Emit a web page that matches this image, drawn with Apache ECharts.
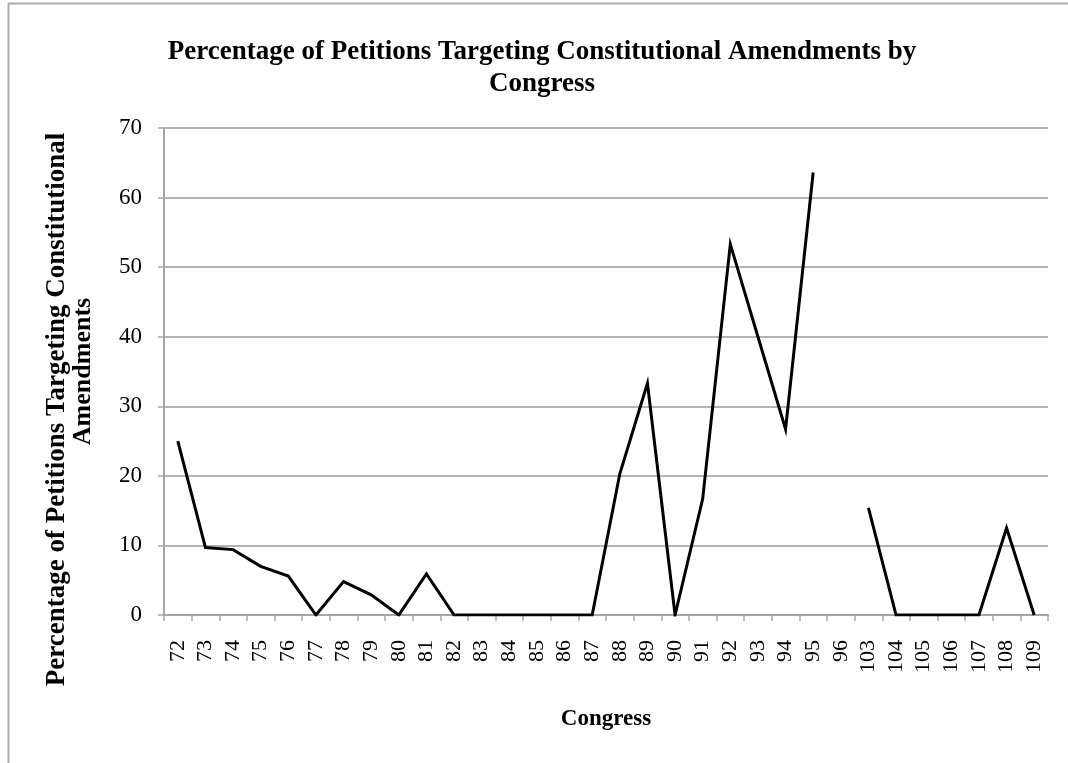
<!DOCTYPE html>
<html>
<head>
<meta charset="utf-8">
<script src="https://cdn.jsdelivr.net/npm/echarts@6/dist/echarts.min.js"></script>
<style>
html,body{margin:0;padding:0;background:#fff;}
#chart{width:1068px;height:763px;}
</style>
</head>
<body>
<div id="chart"></div>
<script>
var congresses = ['72','73','74','75','76','77','78','79','80','81','82','83','84','85','86','87','88','89','90','91','92','93','94','95','96','103','104','105','106','107','108','109'];
var percentages = [25, 9.7, 9.4, 7.0, 5.6, 0, 4.8, 2.9, 0, 5.9, 0, 0, 0, 0, 0, 0, 20.3, 33.3, 0, 16.7, 53.3, 40, 26.7, 63.6, null, 15.4, 0, 0, 0, 0, 12.5, 0];
var yTicks = [0, 10, 20, 30, 40, 50, 60, 70];

var serif = '"Liberation Serif", "Times New Roman", serif';
var chart = echarts.init(document.getElementById('chart'));
chart.setOption({
  animation: false,
  backgroundColor: '#fff',
  graphic: [{
    type: 'rect',
    shape: {x: 8.5, y: 3.5, width: 1200, height: 900},
    style: {fill: 'none', stroke: '#ababab', lineWidth: 2},
    silent: true
  }],
  title: {
    text: 'Percentage of Petitions Targeting Constitutional Amendments by\nCongress',
    left: 537,
    textAlign: 'center',
    top: 31,
    textStyle: {fontFamily: serif, fontWeight: 'bold', fontSize: 27, lineHeight: 32, color: '#000'}
  },
  grid: {left: 164, right: 20, top: 128, bottom: 148, containLabel: false},
  xAxis: {
    type: 'category',
    data: congresses,
    boundaryGap: true,
    name: 'Congress',
    nameLocation: 'middle',
    nameGap: 93,
    nameTextStyle: {fontFamily: serif, fontWeight: 'bold', fontSize: 23, color: '#000'},
    axisLine: {lineStyle: {color: '#a6a6a6', width: 2}},
    axisTick: {show: true, interval: 0, alignWithLabel: false, length: 6, lineStyle: {color: '#a6a6a6', width: 1.5}},
    axisLabel: {interval: 0, rotate: 90, margin: 25, fontFamily: serif, fontSize: 22, color: '#000'},
    splitLine: {show: false}
  },
  yAxis: {
    type: 'value',
    min: 0,
    max: 70,
    interval: 10,
    name: '{a|Percentage of Petitions Targeting Constitutional}\n{b|Amendments}',
    nameLocation: 'middle',
    nameGap: 68,
    nameRotate: 90,
    nameTextStyle: {
      fontFamily: serif, fontWeight: 'bold', fontSize: 26, lineHeight: 26, color: '#000',
      rich: {
        a: {fontFamily: serif, fontWeight: 'bold', fontSize: 27, lineHeight: 26, color: '#000', padding: [0, 76, 0, 0]},
        b: {fontFamily: serif, fontWeight: 'bold', fontSize: 26, lineHeight: 26, color: '#000'}
      }
    },
    axisLine: {show: true, lineStyle: {color: '#a6a6a6', width: 2}},
    axisTick: {show: true, length: 6, lineStyle: {color: '#a6a6a6', width: 1.5}},
    axisLabel: {margin: 22, fontFamily: serif, fontSize: 23, color: '#000',
      formatter: function (v) { return yTicks.indexOf(v) >= 0 ? String(v) : ''; }},
    splitLine: {show: true, lineStyle: {color: '#b3b3b3', width: 2}}
  },
  series: [{
    type: 'line',
    data: percentages,
    connectNulls: false,
    showSymbol: false,
    symbol: 'none',
    lineStyle: {color: '#000', width: 3, join: 'miter'},
    itemStyle: {color: '#000'}
  }]
});
</script>
</body>
</html>
